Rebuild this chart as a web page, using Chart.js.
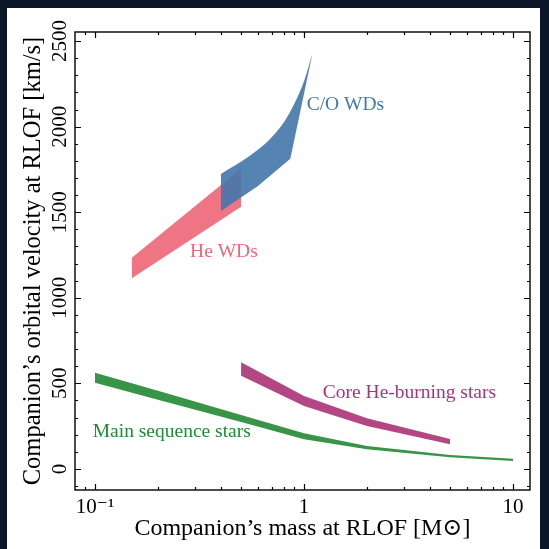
<!DOCTYPE html>
<html>
<head>
<meta charset="utf-8">
<script src="https://cdn.jsdelivr.net/npm/chart.js@4.4.0/dist/chart.umd.min.js"></script>
<style>
  html, body { margin: 0; padding: 0; background: #0b1628; }
  #wrap { width: 549px; height: 549px; }
</style>
</head>
<body>
<div id="wrap"><canvas id="velocityChart" width="549" height="549"></canvas></div>
<script>
// Companion mass [Msun] vs orbital velocity at RLOF [km/s], upper / lower edge of each band
const msMass = [0.1, 0.2, 0.5, 1, 2, 5, 10];
const msUpper = [562, 457, 315, 208, 134, 82, 60];
const msLower = [504, 405, 274, 173, 115, 68, 46];

const coreHeMass = [0.5, 1, 2, 5];
const coreHeUpper = [623, 426, 296, 175];
const coreHeLower = [545, 368, 251, 144];

const heWdMass = [0.15, 0.5];
const heWdUpper = [1234, 1756];
const heWdLower = [1114, 1532];

const coWdMassUpper = [0.4, 0.55, 0.69, 0.81, 0.9, 1.0, 1.1];
const coWdUpper = [1723, 1830, 1930, 2035, 2135, 2265, 2432];
const coWdMassLower = [0.4, 0.6, 0.86, 1.1];
const coWdLower = [1507, 1652, 1812, 2432];

const xTickValues = [0.1, 1, 10];
const xTickLabels = ['10⁻¹', '1', '10'];
const yTickValues = [0, 500, 1000, 1500, 2000, 2500];

const serif = "'Liberation Serif', 'DejaVu Serif', serif";

const colors = {
    blue: '#4477aa',
    pink: '#ee6677',
    purple: '#aa3377',
    green: '#228833'
};

// text labels next to each band (data coordinates)
const bandLabels = [
    { text: 'C/O WDs', x: 1.03, y: 2126, color: colors.blue },
    { text: 'He WDs', x: 0.285, y: 1268, color: colors.pink },
    { text: 'Core He-burning stars', x: 1.23, y: 446, color: colors.purple },
    { text: 'Main sequence stars', x: 0.0975, y: 218, color: colors.green }
];

function toPoints(xs, ys) {
    return xs.map((x, i) => ({ x: x, y: ys[i] }));
}

function withAlpha(hex, a) {
    const n = parseInt(hex.slice(1), 16);
    return 'rgba(' + (n >> 16) + ',' + ((n >> 8) & 255) + ',' + (n & 255) + ',' + a + ')';
}

function band(points, color, fillTo, smooth) {
    const ds = {
        data: points,
        fill: fillTo === undefined || fillTo === null ? false : fillTo,
        backgroundColor: withAlpha(color, 0.9),
        borderColor: 'rgba(0,0,0,0)',
        borderWidth: 0,
        pointRadius: 0,
        pointHoverRadius: 0,
        tension: 0
    };
    if (smooth) {
        ds.cubicInterpolationMode = 'monotone';
    }
    return ds;
}

const framePlugin = {
    id: 'frame',
    beforeDraw(chart) {
        const ctx = chart.ctx;
        ctx.save();
        ctx.fillStyle = '#0b1628';
        ctx.fillRect(0, 0, chart.width, chart.height);
        ctx.fillStyle = '#ffffff';
        ctx.fillRect(7, 8, 533, 541);
        ctx.restore();
    },
    afterDatasetsDraw(chart) {
        const ctx = chart.ctx;
        const area = chart.chartArea;
        const xs = chart.scales.x;
        const ys = chart.scales.y;
        ctx.save();

        // band labels
        ctx.font = '19.5px ' + serif;
        ctx.textAlign = 'left';
        ctx.textBaseline = 'middle';
        bandLabels.forEach(l => {
            ctx.fillStyle = l.color;
            ctx.fillText(l.text, xs.getPixelForValue(l.x), ys.getPixelForValue(l.y));
        });

        // inward ticks on all four sides
        ctx.strokeStyle = '#000';
        ctx.lineWidth = 1.2;
        ctx.beginPath();
        for (let e = -2; e <= 1; e++) {
            for (let k = 1; k <= 9; k++) {
                const v = k * Math.pow(10, e);
                if (v < xs.min || v > xs.max) continue;
                const px = Math.round(xs.getPixelForValue(v)) + 0.5;
                const len = k === 1 ? 6 : 3;
                ctx.moveTo(px, area.bottom); ctx.lineTo(px, area.bottom - len);
                ctx.moveTo(px, area.top); ctx.lineTo(px, area.top + len);
            }
        }
        for (let v = -100; v <= ys.max; v += 100) {
            if (v < ys.min) continue;
            const py = Math.round(ys.getPixelForValue(v)) + 0.5;
            const len = v % 500 === 0 ? 6 : 3;
            ctx.moveTo(area.left, py); ctx.lineTo(area.left + len, py);
            ctx.moveTo(area.right, py); ctx.lineTo(area.right - len, py);
        }
        ctx.stroke();

        ctx.lineWidth = 1.4;
        ctx.strokeRect(area.left, area.top, area.right - area.left, area.bottom - area.top);
        ctx.restore();
    }
};

const ctx = document.getElementById('velocityChart').getContext('2d');
new Chart(ctx, {
    type: 'line',
    data: {
        datasets: [
            band(toPoints(coWdMassUpper, coWdUpper), colors.blue, '+1', true),
            band(toPoints(coWdMassLower, coWdLower), colors.blue),
            band(toPoints(heWdMass, heWdUpper), colors.pink, '+1'),
            band(toPoints(heWdMass, heWdLower), colors.pink),
            band(toPoints(coreHeMass, coreHeUpper), colors.purple, '+1'),
            band(toPoints(coreHeMass, coreHeLower), colors.purple),
            band(toPoints(msMass, msUpper), colors.green, '+1'),
            band(toPoints(msMass, msLower), colors.green)
        ]
    },
    options: {
        responsive: false,
        animation: false,
        events: [],
        layout: { padding: { top: 32, right: 19, left: 0, bottom: 0 } },
        plugins: {
            legend: { display: false },
            tooltip: { enabled: false }
        },
        scales: {
            x: {
                type: 'logarithmic',
                min: 0.0802,
                max: 12.06,
                afterBuildTicks: s => { s.ticks = xTickValues.map(v => ({ value: v })); },
                afterFit: s => { s.height = 59; },
                grid: { display: false, drawTicks: false },
                border: { display: false },
                ticks: {
                    color: '#000',
                    font: { family: serif, size: 21 },
                    padding: 5,
                    maxRotation: 0,
                    autoSkip: false,
                    callback: (v, i) => xTickLabels[i]
                },
                title: {
                    display: true,
                    text: 'Companion’s mass at RLOF [M⊙]',
                    color: '#000',
                    font: { family: serif, size: 24 },
                    padding: { top: 0, bottom: 6 }
                }
            },
            y: {
                min: -123,
                max: 2553,
                afterBuildTicks: s => { s.ticks = yTickValues.map(v => ({ value: v })); },
                afterFit: s => { s.width = 75; },
                grid: { display: false, drawTicks: false },
                border: { display: false },
                ticks: {
                    color: '#000',
                    font: { family: serif, size: 21 },
                    minRotation: 90,
                    maxRotation: 90,
                    crossAlign: 'center',
                    padding: -6,
                    autoSkip: false,
                    callback: v => String(v)
                },
                title: {
                    display: true,
                    text: 'Companion’s orbital velocity at RLOF [km/s]',
                    color: '#000',
                    font: { family: serif, size: 24.5 },
                    padding: { top: 19, bottom: 0 }
                }
            }
        }
    },
    plugins: [framePlugin]
});
</script>
</body>
</html>
